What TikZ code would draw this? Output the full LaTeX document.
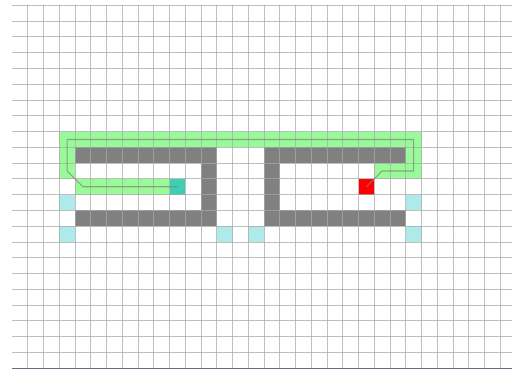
\documentclass[tikz,border=0pt]{standalone}
\usepackage{tikz}
\definecolor{wallgray}{HTML}{808080}
\definecolor{pathgreen}{HTML}{98FB98}
\definecolor{startteal}{HTML}{3DCFB4}
\definecolor{goalred}{HTML}{FF0000}
\definecolor{palecyan}{HTML}{AFEAEA}
\definecolor{gridline}{HTML}{A9A9A9}
\definecolor{spine}{HTML}{5F7080}
\newcommand\gcell[3]{\fill[#1] ({12+#2*15.75},{5.3+#3*15.78}) rectangle ++(15.75,15.78);}
\tikzset{
  gridstyle/.style={draw=gridline, opacity=0.75, line width=0.9pt},
  routeline/.style={draw=gray, opacity=0.7, line width=1.2pt, line join=round},
}
\begin{document}
\begin{tikzpicture}[x=1pt,y=-1pt]
\useasboundingbox (0,0) rectangle (512,372);
% green path cells
\foreach \c in {3,...,25} {\gcell{pathgreen}{\c}{8}}
\gcell{pathgreen}{3}{9}
\gcell{pathgreen}{25}{9}
\gcell{pathgreen}{3}{10}
\foreach \c in {23,24,25} {\gcell{pathgreen}{\c}{10}}
\foreach \c in {4,...,9} {\gcell{pathgreen}{\c}{11}}
% start and goal
\gcell{startteal}{10}{11}
\gcell{goalred}{22}{11}
% walls
\foreach \c in {4,...,12} {\gcell{wallgray}{\c}{9}\gcell{wallgray}{\c}{13}}
\foreach \r in {10,11,12} {\gcell{wallgray}{12}{\r}\gcell{wallgray}{16}{\r}}
\foreach \c in {16,...,24} {\gcell{wallgray}{\c}{9}\gcell{wallgray}{\c}{13}}
% pale cyan cells
\gcell{palecyan}{3}{12}
\gcell{palecyan}{3}{14}
\gcell{palecyan}{13}{14}
\gcell{palecyan}{15}{14}
\gcell{palecyan}{25}{12}
\gcell{palecyan}{25}{14}
% grid
\foreach \k in {1,...,31} {\draw[gridstyle] ({12+\k*15.75},5.3) -- ({12+\k*15.75},368.3);}
\foreach \j in {0,...,22} {\draw[gridstyle] (12,{5.3+\j*15.78}) -- (512,{5.3+\j*15.78});}
\draw[draw=spine, line width=1.2pt] (12,368.3) -- (512,368.3);
% route
\foreach \n/\c/\r in {p0/10/11,p1/4/11,p2/3/10,p3/3/8,p4/25/8,p5/25/10,p6/23/10,p7/22/11}
  {\coordinate (\n) at ({12+(\c+0.5)*15.75},{5.3+(\r+0.5)*15.78});}
\draw[routeline] (p0) -- (p1) -- (p2) -- (p3) -- (p4) -- (p5) -- (p6) -- (p7);
\end{tikzpicture}
\end{document}
